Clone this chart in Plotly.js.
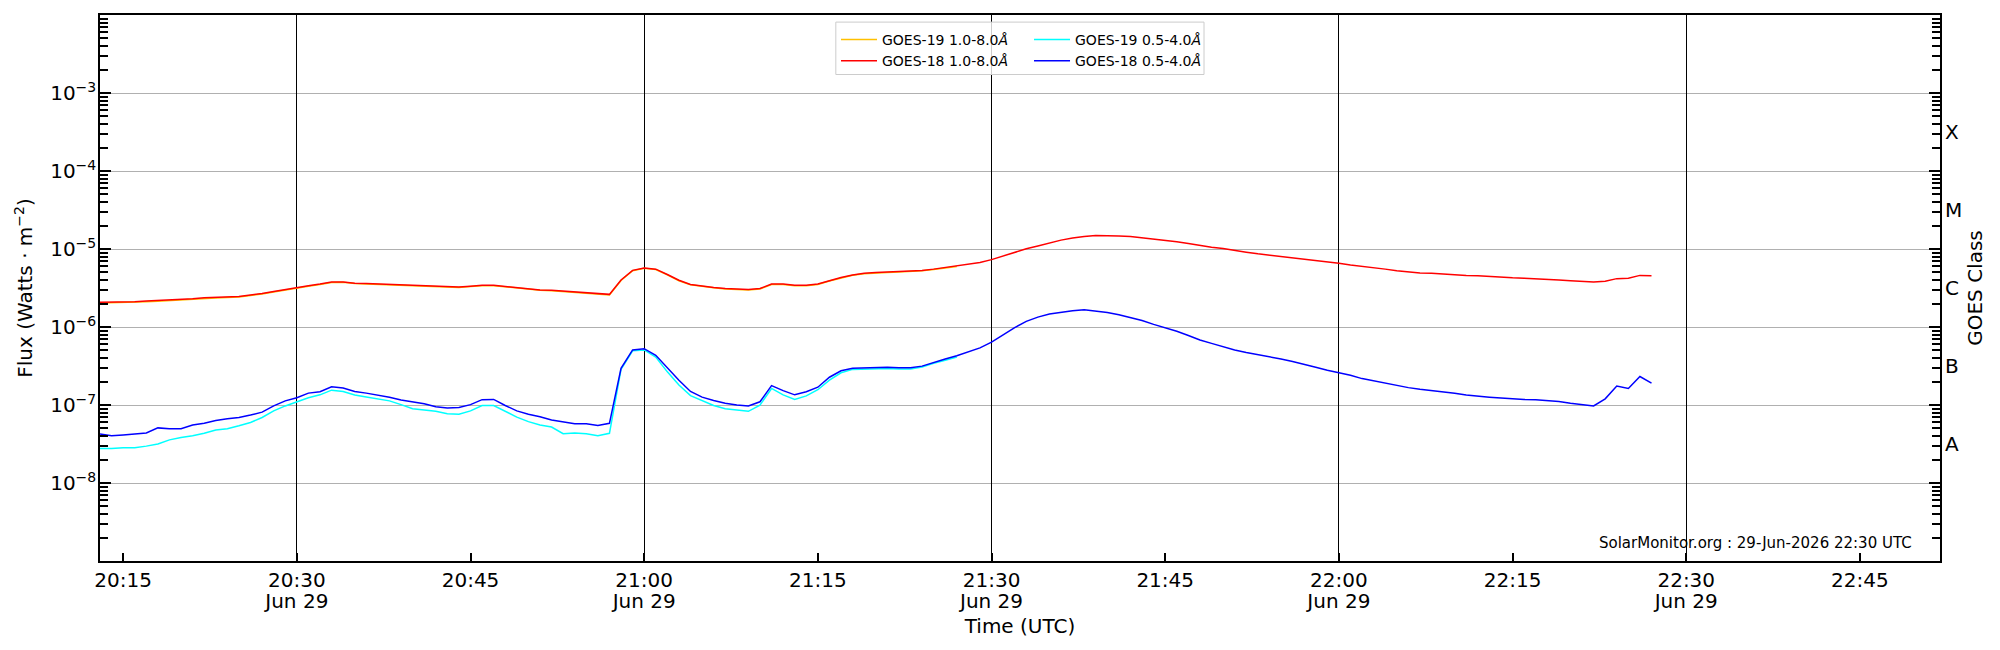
<!DOCTYPE html>
<html>
<head>
<meta charset="utf-8">
<script src="https://cdn.plot.ly/plotly-3.0.1.min.js"></script>
<style>
  body { margin: 0; background: #fff; }
  #goes-plot { width: 2000px; height: 650px; }
</style>
</head>
<body>
<div id="goes-plot"></div>
<script>
// one sample per minute, starting 2026-06-29 20:13 UTC
var day = '2026-06-29';
var startMinute = 20 * 60 + 13;

// GOES-18 1.0-8.0 A (W m^-2), 20:13 .. 22:27
var goes18Long = [
  2.07e-6, 2.07e-6, 2.10e-6, 2.10e-6, 2.15e-6, 2.18e-6, 2.23e-6, 2.26e-6, 2.31e-6, 2.37e-6,
  2.40e-6, 2.43e-6, 2.46e-6, 2.58e-6, 2.68e-6, 2.85e-6, 3.03e-6, 3.22e-6, 3.38e-6, 3.55e-6,
  3.78e-6, 3.78e-6, 3.64e-6, 3.60e-6, 3.55e-6, 3.51e-6, 3.47e-6, 3.43e-6, 3.38e-6, 3.34e-6,
  3.26e-6, 3.26e-6, 3.34e-6, 3.43e-6, 3.43e-6, 3.30e-6, 3.18e-6, 3.07e-6, 2.99e-6, 2.96e-6,
  2.89e-6, 2.82e-6, 2.75e-6, 2.68e-6, 2.62e-6, 4.01e-6, 5.32e-6, 5.72e-6, 5.52e-6, 4.71e-6,
  3.97e-6, 3.51e-6, 3.34e-6, 3.22e-6, 3.11e-6, 3.07e-6, 3.03e-6, 3.11e-6, 3.55e-6, 3.55e-6,
  3.43e-6, 3.43e-6, 3.55e-6, 3.92e-6, 4.32e-6, 4.65e-6, 4.88e-6, 5.00e-6, 5.06e-6, 5.13e-6,
  5.19e-6, 5.32e-6, 5.52e-6, 5.79e-6, 6.01e-6, 6.31e-6, 6.71e-6, 7.31e-6, 8.16e-6, 9.11e-6,
  1.005e-5, 1.095e-5, 1.19e-5, 1.30e-5, 1.38e-5, 1.45e-5, 1.49e-5, 1.49e-5, 1.47e-5, 1.45e-5,
  1.40e-5, 1.35e-5, 1.30e-5, 1.24e-5, 1.18e-5, 1.11e-5, 1.055e-5, 1.017e-5, 9.57e-6, 9.11e-6,
  8.68e-6, 8.36e-6, 7.96e-6, 7.68e-6, 7.31e-6, 7.05e-6, 6.79e-6, 6.55e-6, 6.23e-6, 6.01e-6,
  5.72e-6, 5.52e-6, 5.25e-6, 5.06e-6, 4.94e-6, 4.88e-6, 4.76e-6, 4.71e-6, 4.59e-6, 4.54e-6,
  4.43e-6, 4.37e-6, 4.27e-6, 4.22e-6, 4.17e-6, 4.11e-6, 4.01e-6, 3.92e-6, 3.82e-6, 3.78e-6,
  3.87e-6, 4.17e-6, 4.22e-6, 4.59e-6, 4.54e-6
];

// GOES-18 0.5-4.0 A, 20:13 .. 22:27
var goes18Short = [
  4.24e-8, 4.03e-8, 4.13e-8, 4.29e-8, 4.39e-8, 5.09e-8, 4.97e-8, 4.97e-8, 5.55e-8, 5.82e-8,
  6.34e-8, 6.66e-8, 6.91e-8, 7.44e-8, 8.10e-8, 9.73e-8, 1.13e-7, 1.24e-7, 1.42e-7, 1.48e-7,
  1.71e-7, 1.65e-7, 1.49e-7, 1.42e-7, 1.35e-7, 1.26e-7, 1.16e-7, 1.11e-7, 1.04e-7, 9.50e-8,
  9.16e-8, 9.27e-8, 1.01e-7, 1.17e-7, 1.18e-7, 9.85e-8, 8.40e-8, 7.62e-8, 7.08e-8, 6.42e-8,
  6.12e-8, 5.75e-8, 5.75e-8, 5.48e-8, 5.82e-8, 2.96e-7, 5.08e-7, 5.27e-7, 4.33e-7, 3.00e-7,
  2.08e-7, 1.49e-7, 1.26e-7, 1.14e-7, 1.05e-7, 9.98e-8, 9.73e-8, 1.10e-7, 1.77e-7, 1.53e-7,
  1.35e-7, 1.48e-7, 1.69e-7, 2.27e-7, 2.75e-7, 2.96e-7, 3.00e-7, 3.04e-7, 3.04e-7, 3.00e-7,
  3.00e-7, 3.15e-7, 3.52e-7, 3.88e-7, 4.28e-7, 4.78e-7, 5.40e-7, 6.41e-7, 7.98e-7, 9.83e-7,
  1.18e-6, 1.34e-6, 1.47e-6, 1.56e-6, 1.62e-6, 1.66e-6, 1.60e-6, 1.53e-6, 1.44e-6, 1.32e-6,
  1.21e-6, 1.08e-6, 9.83e-7, 8.81e-7, 7.79e-7, 6.81e-7, 6.17e-7, 5.60e-7, 5.08e-7, 4.72e-7,
  4.44e-7, 4.12e-7, 3.88e-7, 3.61e-7, 3.35e-7, 3.04e-7, 2.79e-7, 2.62e-7, 2.41e-7, 2.18e-7,
  2.03e-7, 1.91e-7, 1.77e-7, 1.67e-7, 1.59e-7, 1.53e-7, 1.48e-7, 1.41e-7, 1.34e-7, 1.29e-7,
  1.26e-7, 1.23e-7, 1.20e-7, 1.18e-7, 1.17e-7, 1.14e-7, 1.11e-7, 1.05e-7, 1.01e-7, 9.73e-8,
  1.20e-7, 1.75e-7, 1.63e-7, 2.32e-7, 1.91e-7
];

// GOES-19 1.0-8.0 A, 20:13 .. 21:27 (mostly hidden under GOES-18)
var goes19Long = [
  2.03e-6, 2.04e-6, 2.06e-6, 2.07e-6, 2.11e-6, 2.14e-6, 2.19e-6, 2.22e-6, 2.27e-6, 2.33e-6,
  2.36e-6, 2.39e-6, 2.42e-6, 2.54e-6, 2.64e-6, 2.81e-6, 2.99e-6, 3.18e-6, 3.34e-6, 3.51e-6,
  3.73e-6, 3.74e-6, 3.60e-6, 3.56e-6, 3.51e-6, 3.47e-6, 3.43e-6, 3.39e-6, 3.34e-6, 3.30e-6,
  3.22e-6, 3.22e-6, 3.30e-6, 3.39e-6, 3.39e-6, 3.26e-6, 3.14e-6, 3.03e-6, 2.95e-6, 2.92e-6,
  2.85e-6, 2.78e-6, 2.71e-6, 2.64e-6, 2.58e-6, 3.95e-6, 5.26e-6, 5.66e-6, 5.46e-6, 4.66e-6,
  3.92e-6, 3.47e-6, 3.30e-6, 3.18e-6, 3.07e-6, 3.03e-6, 2.99e-6, 3.07e-6, 3.51e-6, 3.51e-6,
  3.39e-6, 3.39e-6, 3.51e-6, 3.88e-6, 4.27e-6, 4.60e-6, 4.83e-6, 4.95e-6, 5.01e-6, 5.07e-6,
  5.13e-6, 5.26e-6, 5.46e-6, 5.73e-6, 5.95e-6
];

// GOES-19 0.5-4.0 A, 20:13 .. 21:27
var goes19Short = [
  2.76e-8, 2.76e-8, 2.83e-8, 2.83e-8, 2.97e-8, 3.16e-8, 3.57e-8, 3.84e-8, 4.03e-8, 4.34e-8,
  4.79e-8, 4.97e-8, 5.41e-8, 5.97e-8, 6.91e-8, 8.40e-8, 9.73e-8, 1.10e-7, 1.24e-7, 1.35e-7,
  1.55e-7, 1.49e-7, 1.34e-7, 1.27e-7, 1.21e-7, 1.13e-7, 1.01e-7, 8.94e-8, 8.61e-8, 8.30e-8,
  7.71e-8, 7.62e-8, 8.40e-8, 9.85e-8, 9.85e-8, 8.40e-8, 7.00e-8, 6.12e-8, 5.55e-8, 5.22e-8,
  4.29e-8, 4.39e-8, 4.29e-8, 4.03e-8, 4.34e-8, 2.86e-7, 4.95e-7, 5.08e-7, 4.12e-7, 2.66e-7,
  1.80e-7, 1.32e-7, 1.14e-7, 9.85e-8, 8.94e-8, 8.61e-8, 8.30e-8, 9.98e-8, 1.63e-7, 1.35e-7,
  1.18e-7, 1.31e-7, 1.57e-7, 2.08e-7, 2.59e-7, 2.86e-7, 2.89e-7, 2.93e-7, 2.93e-7, 2.89e-7,
  2.89e-7, 3.07e-7, 3.43e-7, 3.74e-7, 4.12e-7
];

var tickTimes = ['20:15', '20:30', '20:45', '21:00', '21:15', '21:30', '21:45', '22:00', '22:15', '22:30', '22:45'];
var dateTimes = ['20:30', '21:00', '21:30', '22:00', '22:30'];
var dateLabel = 'Jun 29';
var fluxExponents = [-8, -7, -6, -5, -4, -3];
var classLetters = ['X', 'M', 'C', 'B', 'A'];
var classExponents = [-3.5, -4.5, -5.5, -6.5, -7.5];
var stamp = 'SolarMonitor.org : 29-Jun-2026 22:30 UTC';

function pad(n) { return (n < 10 ? '0' : '') + n; }
function minuteStamps(n) {
  var out = [];
  for (var i = 0; i < n; i++) {
    var m = startMinute + i;
    out.push(day + ' ' + pad(Math.floor(m / 60)) + ':' + pad(m % 60));
  }
  return out;
}
function at(hhmm) { return day + ' ' + hhmm; }

// minor log ticks 2..9 in every decade of the y range
var minorVals = [];
for (var e = -9; e < -2; e++) {
  for (var k = 2; k <= 9; k++) minorVals.push(k * Math.pow(10, e));
}

var font = 'DejaVu Sans, sans-serif';

function series(vals, name, color, legend) {
  return {
    x: minuteStamps(vals.length), y: vals, name: name, legend: legend,
    type: 'scatter', mode: 'lines',
    line: { color: color, width: 1.5 },
    hoverinfo: 'skip'
  };
}

var data = [
  series(goes19Long, 'GOES-19 1.0-8.0<i>Å</i>', '#ffc000', 'legend'),
  series(goes19Short, 'GOES-19 0.5-4.0<i>Å</i>', '#00ffff', 'legend2'),
  series(goes18Long, 'GOES-18 1.0-8.0<i>Å</i>', '#ff0000', 'legend'),
  series(goes18Short, 'GOES-18 0.5-4.0<i>Å</i>', '#0000ff', 'legend2'),
  // empty traces so the overlay axes exist
  { x: [], y: [], xaxis: 'x2', yaxis: 'y', showlegend: false, hoverinfo: 'skip', type: 'scatter' },
  { x: [], y: [], xaxis: 'x', yaxis: 'y2', showlegend: false, hoverinfo: 'skip', type: 'scatter' }
];

var xRange = [at('20:13:00'), at('22:51:55')];
var yRange = [-9, -2];

var layout = {
  width: 2000, height: 650,
  margin: { l: 100, r: 60, t: 15, b: 89 },
  paper_bgcolor: 'white', plot_bgcolor: 'white',
  font: { family: font, size: 20, color: 'black' },
  showlegend: true,
  xaxis: {
    type: 'date', range: xRange, autorange: false,
    tickmode: 'array',
    tickvals: tickTimes.map(at), ticktext: tickTimes,
    ticks: 'inside', ticklen: 8, tickwidth: 1.5, tickcolor: '#000000',
    showgrid: false, zeroline: false,
    showline: true, linecolor: 'black', linewidth: 1.5, mirror: true,
    tickfont: { size: 20 },
    title: { text: 'Time (UTC)', font: { size: 20 }, standoff: 28 }
  },
  // half-hour lines and the date row under the time labels
  xaxis2: {
    type: 'date', overlaying: 'x', side: 'bottom', range: xRange, autorange: false,
    tickmode: 'array', tickvals: dateTimes.map(at),
    ticktext: dateTimes.map(function () { return dateLabel; }),
    ticks: '', ticklabelstandoff: 26,
    tickfont: { size: 20 },
    showgrid: true, gridcolor: 'black', gridwidth: 1.2,
    showline: false, zeroline: false
  },
  yaxis: {
    type: 'log', range: yRange, autorange: false,
    tickmode: 'array',
    tickvals: fluxExponents.map(function (p) { return Math.pow(10, p); }),
    ticktext: fluxExponents.map(function (p) { return '10<sup>−' + (-p) + '</sup>'; }),
    ticks: 'inside', ticklen: 11, tickwidth: 1.5, tickcolor: '#000000',
    minor: { tickmode: 'array', tickvals: minorVals, ticks: 'inside', ticklen: 8, tickwidth: 1.5, tickcolor: '#000000', showgrid: false },
    showgrid: true, gridcolor: '#b0b0b0', gridwidth: 1,
    showline: true, linecolor: 'black', linewidth: 1.5, mirror: 'ticks',
    zeroline: false, ticklabelstandoff: -2,
    tickfont: { size: 20 },
    title: { text: 'Flux (Watts · m<sup>−2</sup>)', font: { size: 20 }, standoff: 12 }
  },
  yaxis2: {
    type: 'log', overlaying: 'y', side: 'right', range: yRange, autorange: false,
    tickmode: 'array',
    tickvals: classExponents.map(function (p) { return Math.pow(10, p); }),
    ticktext: classLetters.map(function (c) { return '\u2009' + c; }),
    ticks: '', showgrid: false, showline: false, zeroline: false,
    tickfont: { size: 20 },
    title: { text: 'GOES Class', font: { size: 20 }, standoff: 6 }
  },
  legend: {
    x: 0.4, y: 0.9835, xanchor: 'left', yanchor: 'top',
    bgcolor: 'rgba(0,0,0,0)', borderwidth: 0, tracegroupgap: 0, itemwidth: 36,
    font: { size: 14, family: font }
  },
  legend2: {
    x: 0.5049, y: 0.9835, xanchor: 'left', yanchor: 'top',
    bgcolor: 'rgba(0,0,0,0)', borderwidth: 0, tracegroupgap: 0, itemwidth: 36,
    font: { size: 14, family: font }
  },
  shapes: [{
    type: 'rect', xref: 'paper', yref: 'paper', layer: 'above',
    x0: 0.3999, x1: 0.6, y0: 0.891, y1: 0.987,
    line: { color: '#cccccc', width: 1 },
    fillcolor: 'rgba(255,255,255,0.8)'
  }],
  annotations: [{
    text: stamp, xref: 'paper', yref: 'paper', x: 0.986, y: 0.033,
    xanchor: 'right', yanchor: 'middle', showarrow: false,
    font: { size: 15, family: font, color: 'black' }
  }]
};

Plotly.newPlot('goes-plot', data, layout, { displayModeBar: false });
</script>
</body>
</html>
